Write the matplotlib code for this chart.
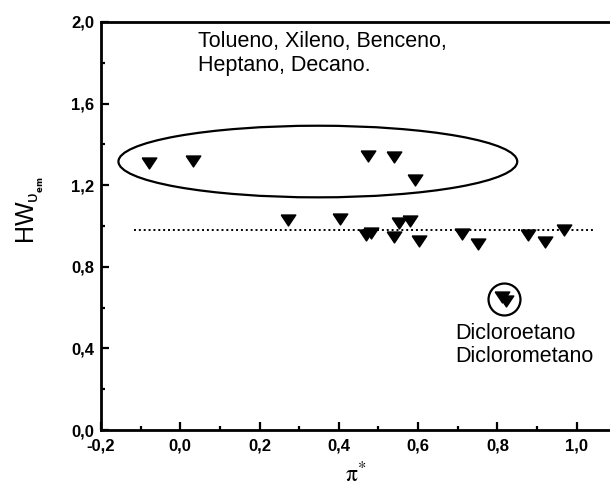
import matplotlib
matplotlib.use("Agg")
import matplotlib.pyplot as plt
from matplotlib.patches import Ellipse
from matplotlib.ticker import MultipleLocator, FuncFormatter

# Solvent polarity (pi*) vs. normalised half-width
pi_apolar = [-0.078, 0.031, 0.473, 0.540, 0.592]
hw_apolar = [1.310, 1.320, 1.343, 1.337, 1.225]

pi_polar = [0.271, 0.403, 0.468, 0.482, 0.540, 0.552, 0.579, 0.603,
            0.711, 0.752, 0.877, 0.919, 0.968]
hw_polar = [1.029, 1.034, 0.955, 0.965, 0.948, 1.013, 1.026, 0.928,
            0.961, 0.910, 0.956, 0.923, 0.980]

pi_chloro = [0.812, 0.821]
hw_chloro = [0.652, 0.634]

hw_mean = 0.98
mean_span = [-0.117, 1.041]

xticks = [-0.2, 0.0, 0.2, 0.4, 0.6, 0.8, 1.0]
yticks = [0.0, 0.4, 0.8, 1.2, 1.6, 2.0]

plt.rcParams['font.family'] = ['Liberation Sans', 'DejaVu Sans']
plt.rcParams['mathtext.fontset'] = 'custom'
plt.rcParams['mathtext.rm'] = 'Liberation Sans'
plt.rcParams['mathtext.it'] = 'Liberation Sans:italic'

W, H = 610, 490
fig = plt.figure(figsize=(W / 100, H / 100), dpi=100)
ax = fig.add_axes([101 / W, (H - 430) / H, (W - 101) / W, (430 - 22) / H])
ax.set_xlim(-0.2, 1.084)
ax.set_ylim(0.0, 2.0)

# flattened down-pointing triangle
tri = [(-1, 0.75), (1, 0.75), (0, -0.75), (-1, 0.75)]
mk = dict(marker=tri, ms=10.5, color='black', linestyle='none')
ax.plot(pi_apolar, hw_apolar, **mk)
ax.plot(pi_polar, hw_polar, **mk)
ax.plot(pi_chloro, hw_chloro, **mk)

ax.plot(mean_span, [hw_mean, hw_mean], color='black', lw=1.4,
        linestyle=(0, (1, 1.5)))

# Grouping marks
ax.add_patch(Ellipse((0.347, 1.316), 1.006, 0.351, fill=False,
                     edgecolor='black', lw=1.6))
ax.plot([0.816], [0.640], marker='o', ms=23, mfc='none', mec='black',
        mew=1.6, linestyle='none')

ax.text(0.044, 1.958, 'Tolueno, Xileno, Benceno,\nHeptano, Decano.',
        fontsize=15.5, va='top', ha='left', linespacing=1.2)
ax.text(0.693, 0.525, 'Dicloroetano\nDiclorometano',
        fontsize=15.5, va='top', ha='left', linespacing=1.1)

for s in ('left', 'bottom', 'top'):
    ax.spines[s].set_linewidth(2.0)
ax.spines['right'].set_visible(False)

ax.set_xticks(xticks)
ax.set_yticks(yticks)
ax.xaxis.set_minor_locator(MultipleLocator(0.1))
ax.yaxis.set_minor_locator(MultipleLocator(0.2))
comma = FuncFormatter(lambda v, p: f'{v:.1f}'.replace('.', ','))
ax.xaxis.set_major_formatter(comma)
ax.yaxis.set_major_formatter(comma)
ax.tick_params(which='both', direction='in', top=False, right=False,
               width=1.6, labelsize=12)
ax.tick_params(which='major', length=6)
ax.tick_params(axis='x', which='major', pad=6)
ax.tick_params(axis='y', which='major', pad=5)
ax.tick_params(which='minor', length=3)
for lab in ax.get_xticklabels() + ax.get_yticklabels():
    lab.set_fontweight('bold')

ax.set_xlabel(r'$\mathrm{\pi}^{*}$', fontsize=17, labelpad=6,
              math_fontfamily='stix')
ax.set_ylabel(r'HW$_{\mathrm{\upsilon}_{_{\mathbf{em}}}}$', fontsize=18)
ax.yaxis.set_label_coords(-0.108, 0.54)

fig.savefig('out.png', dpi=100)
